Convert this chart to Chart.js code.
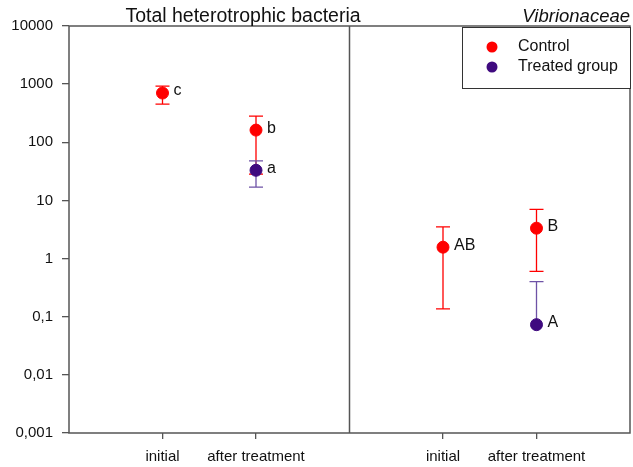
<!DOCTYPE html>
<html>
<head>
<meta charset="utf-8">
<script src="https://cdn.jsdelivr.net/npm/chart.js@4"></script>
<style>
  html, body { margin: 0; padding: 0; background: #fff; }
  canvas { display: block; }
</style>
</head>
<body>
<canvas id="chart" width="633" height="467"></canvas>
<script>
// panels and groups on x
const panels = ['Total heterotrophic bacteria', 'Vibrionaceae'];
const stages = ['initial', 'after treatment', 'initial', 'after treatment'];
const stageX = [1, 2, 4, 5];

// Control (means and error bar ends)
const controlMean = [703, 162, 1.57, 3.33];
const controlLow  = [455, 28.4, 0.136, 0.6];
const controlHigh = [927, 282, 3.5, 7.0];
const controlLetters = ['c', 'b', 'AB', 'B'];

// Treated group
const treatedMean = [null, 33, null, 0.073];
const treatedLow  = [null, 17, null, null];
const treatedHigh = [null, 48, null, 0.40];
const treatedLetters = ['', 'a', '', 'A'];

const yTicks = [0.001, 0.01, 0.1, 1, 10, 100, 1000, 10000];

const FONT = "'Liberation Sans', Arial, sans-serif";
const RED = '#ff0000';
const PURPLE = '#3f0a7f';
const PURPLE_BAR = '#6e52a6';
const AXIS = '#555555';

function toPoints(means, lows, highs, letters) {
  const pts = [];
  means.forEach((m, i) => {
    if (m === null) return;
    pts.push({ x: stageX[i], y: m, lo: lows[i], hi: highs[i], letter: letters[i] });
  });
  return pts;
}

const errorBars = {
  id: 'errorBars',
  beforeDatasetsDraw(chart) {
    const ctx = chart.ctx;
    const ys = chart.scales.y;
    chart.data.datasets.forEach((ds, di) => {
      const meta = chart.getDatasetMeta(di);
      ctx.save();
      ctx.strokeStyle = ds.barColor;
      ctx.lineWidth = 1.3;
      ds.data.forEach((p, i) => {
        const el = meta.data[i];
        const x = el.x;
        const yc = el.y;
        const top = p.hi != null ? ys.getPixelForValue(p.hi) : yc;
        const bot = p.lo != null ? ys.getPixelForValue(p.lo) : yc;
        ctx.beginPath();
        ctx.moveTo(x, top); ctx.lineTo(x, bot);
        if (p.hi != null) { ctx.moveTo(x - 7, top); ctx.lineTo(x + 7, top); }
        if (p.lo != null) { ctx.moveTo(x - 7, bot); ctx.lineTo(x + 7, bot); }
        ctx.stroke();
      });
      ctx.restore();
    });
  },
  afterDatasetsDraw(chart) {
    const ctx = chart.ctx;
    ctx.save();
    ctx.fillStyle = '#111';
    ctx.font = '16px ' + FONT;
    ctx.textBaseline = 'middle';
    chart.data.datasets.forEach((ds, di) => {
      const meta = chart.getDatasetMeta(di);
      ds.data.forEach((p, i) => {
        if (!p.letter) return;
        const el = meta.data[i];
        ctx.fillText(p.letter, el.x + 11, el.y - 2);
      });
    });
    ctx.restore();
  }
};

const frame = {
  id: 'frame',
  afterDraw(chart) {
    const ctx = chart.ctx;
    const a = chart.chartArea;
    const xs = chart.scales.x;
    const mid = xs.getPixelForValue(3);
    ctx.save();
    ctx.strokeStyle = AXIS;
    ctx.lineWidth = 1.5;
    ctx.beginPath();
    ctx.rect(a.left, a.top, a.right - a.left, a.bottom - a.top);
    ctx.moveTo(mid, a.top); ctx.lineTo(mid, a.bottom);
    ctx.stroke();

    // panel titles
    ctx.fillStyle = '#111';
    ctx.textBaseline = 'alphabetic';
    ctx.font = '19.5px ' + FONT;
    ctx.textAlign = 'center';
    ctx.fillText(panels[0], 243, 22);
    ctx.font = 'italic 18.5px ' + FONT;
    ctx.textAlign = 'right';
    ctx.fillText(panels[1], a.right, 22);

    // legend box
    const lx = 462, ly = a.top + 1, lw = a.right - 462, lh = 61;
    ctx.fillStyle = '#fff';
    ctx.fillRect(lx, ly, lw, lh);
    ctx.lineWidth = 1;
    ctx.strokeStyle = '#333';
    ctx.strokeRect(lx + 0.5, ly + 0.5, lw, lh);
    chart.data.datasets.forEach((ds, i) => {
      const yy = ly + 20 + i * 20;
      ctx.fillStyle = ds.backgroundColor;
      ctx.beginPath();
      ctx.arc(lx + 30, yy, 5.5, 0, Math.PI * 2);
      ctx.fill();
      ctx.fillStyle = '#111';
      ctx.textAlign = 'left';
      ctx.textBaseline = 'middle';
      ctx.font = '16px ' + FONT;
      ctx.fillText(ds.label, lx + 56, yy);
    });
    ctx.restore();
  }
};

new Chart(document.getElementById('chart'), {
  type: 'scatter',
  data: {
    datasets: [
      {
        label: 'Control',
        data: toPoints(controlMean, controlLow, controlHigh, controlLetters),
        backgroundColor: RED,
        borderColor: RED,
        barColor: RED,
        pointRadius: 6,
        pointHoverRadius: 6
      },
      {
        label: 'Treated group',
        data: toPoints(treatedMean, treatedLow, treatedHigh, treatedLetters),
        backgroundColor: PURPLE,
        borderColor: PURPLE,
        barColor: PURPLE_BAR,
        pointRadius: 6,
        pointHoverRadius: 6
      }
    ]
  },
  options: {
    responsive: false,
    animation: false,
    layout: { autoPadding: false, padding: { top: 26, right: 3, left: 0, bottom: 0 } },
    plugins: { legend: { display: false }, tooltip: { enabled: false } },
    scales: {
      x: {
        type: 'linear',
        min: 0,
        max: 6,
        afterBuildTicks(s) { s.ticks = stageX.map(v => ({ value: v })); },
        afterFit(s) { s.height = 34; },
        border: { display: false },
        grid: { drawOnChartArea: false, drawTicks: true, tickLength: 6, color: AXIS, lineWidth: 1.3 },
        ticks: {
          color: '#111',
          font: { family: FONT, size: 15 },
          padding: 9,
          maxRotation: 0,
          callback: (v) => stages[stageX.indexOf(v)]
        }
      },
      y: {
        type: 'logarithmic',
        min: 0.001,
        max: 10000,
        afterBuildTicks(s) { s.ticks = yTicks.map(v => ({ value: v })); },
        afterFit(s) { s.width = 69; },
        border: { display: false },
        grid: { drawOnChartArea: false, drawTicks: true, tickLength: 7, color: AXIS, lineWidth: 1.3 },
        ticks: {
          color: '#111',
          font: { family: FONT, size: 15 },
          padding: 9,
          callback: (v) => String(v).replace('.', ',')
        }
      }
    }
  },
  plugins: [errorBars, frame]
});
</script>
</body>
</html>
